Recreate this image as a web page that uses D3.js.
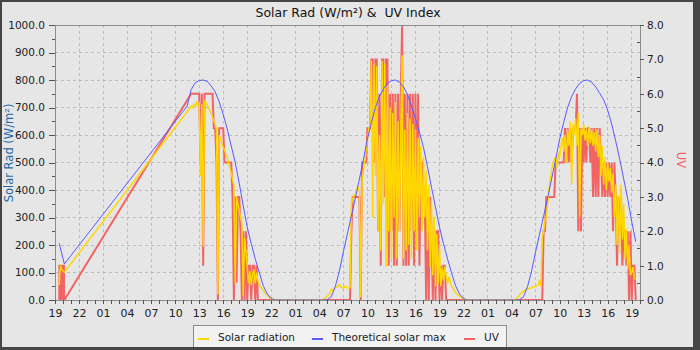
<!DOCTYPE html>
<html>
<head>
<meta charset="utf-8">
<script src="https://cdn.jsdelivr.net/npm/d3@7"></script>
<style>
  body { margin: 0; background: #444; }
  svg { display: block; font-family: 'DejaVu Sans', sans-serif; }
</style>
</head>
<body>
<svg id="chart" width="700" height="350"></svg>
<script>
// Width and height
const w = 700;
const h = 350;
const plot = { left: 55, right: 640, top: 25, bottom: 300 };

// Texts
const chartTitle = 'Solar Rad (W/m²) &  UV Index';
const leftLabel = 'Solar Rad (W/m²)';
const rightLabel = 'UV';
const seriesNames = ['Solar radiation', 'Theoretical solar max', 'UV'];
const seriesColors = ['#ffd700', '#5a5aff', '#f26464'];

// Ticks
const solarTicks = [0, 100, 200, 300, 400, 500, 600, 700, 800, 900, 1000];
const solarMinorTicks = [50, 150, 250, 350, 450, 550, 650, 750, 850, 950];
const uvTicks = [0, 1, 2, 3, 4, 5, 6, 7, 8];
const uvMinorTicks = [0.5, 1.5, 2.5, 3.5, 4.5, 5.5, 6.5, 7.5];

// Days covered and time window
const days = ['2024-06-20', '2024-06-21', '2024-06-22', '2024-06-23'];
const xStart = '2024-06-20 19:00';
const xEnd = '2024-06-23 20:02';

// Day 1 evening, single readings [time, value]
const solarDay1 = [['19:32', 55], ['19:36', 100], ['19:43', 121], ['19:50', 112], ['20:00', 106], ['20:10', 101]];
const uvDay1 = [['19:32', 0], ['19:33', 1], ['19:37', 1], ['19:38', 0], ['19:40', 1], ['19:46', 1], ['19:47', 0],
  ['19:49', 1], ['20:00', 1], ['20:02', 0], ['20:04', 1], ['20:07', 1], ['20:08', 0], ['20:10', 0]];
const maxDay1 = [['19:32', 206], ['20:10', 131]];

// Day 2, 10-minute readings (solar from 11:50, uv from 12:00), theoretical every 30 minutes from 11:30
const solarDay2Start = '11:50';
const solarDay2 = [697, 705, 700, 712, 703, 718, 708,
  715, 450, 712, 195, 722, 718,
  710, 700, 690, 678, 665, 650,
  640, 620, 20, 600, 585, 570,
  555, 545, 530, 520, 500, 480,
  460, 440, 415, 60, 375, 350,
  325, 300, 278, 15, 225, 175,
  120, 60, 105, 55, 95, 110,
  60, 100, 70, 55, 48, 42,
  36, 28, 22, 17, 12, 8,
  5, 3, 1, 0];
const uvDay2Start = '12:00';
const uvDay2 = [6, 6, 6, 6, 6, 6,
  6, 4, 6, 1, 6, 6,
  6, 6, 6, 6, 6, 5,
  5, 4, 0, 5, 5, 5,
  5, 4, 4, 4, 4, 4,
  4, 3, 0, 3, 0.5, 3,
  3, 2, 0, 2, 0, 2,
  0, 1, 1, 0, 1, 1,
  0, 1, 0, 0];
const maxDay2Start = '11:30';
const maxDay2 = [705, 765, 790, 798, 800, 795, 778, 757, 720, 675, 622, 560, 500, 425,
  342, 265, 205, 150, 100, 52, 22, 5, 0];

// Day 3, 10-minute readings from 04:00, theoretical every 30 minutes from 04:30
const solarDay3 = [0, 0, 1, 3, 6, 10,
  14, 18, 24, 40, 36, 38,
  44, 48, 52, 56, 50, 46,
  42, 50, 47, 44, 42, 45,
  350, 370, 380, 385, 400, 410,
  395, 10, 430, 470, 500, 540,
  580, 620, 640, 870, 300, 860,
  450, 850, 250, 600, 180, 870,
  350, 860, 120, 780, 250, 700,
  150, 680, 300, 720, 150, 650,
  250, 600, 890, 150, 620, 180,
  680, 200, 660, 150, 640, 250,
  620, 180, 590, 300, 560, 250,
  520, 300, 470, 180, 420, 120,
  360, 90, 300, 50, 240, 60,
  200, 50, 115, 70, 121, 85,
  60, 85, 70, 48, 45, 35,
  28, 22, 18, 14, 11, 8,
  5, 3, 2, 1, 0];
const uvDay3 = [0, 0, 0, 0, 0, 0,
  0, 0, 0, 0, 0, 0,
  0, 0, 0, 0, 0, 0,
  0, 0, 0, 0, 0, 0,
  2, 3, 3, 3, 3, 3,
  3, 0, 4, 4, 4, 4,
  5, 5, 5, 7, 7, 4,
  7, 7, 2, 6, 1, 7,
  7, 3, 7, 7, 1, 6,
  2, 6, 1, 6, 1, 6,
  2, 6, 8, 1, 6, 1,
  6, 1, 6, 2, 6, 1,
  6, 2, 6, 1, 4, 4,
  3, 3, 0, 3, 0, 3,
  2, 0, 2, 0, 2, 2,
  0, 1, 0, 1, 1, 0,
  0];
const maxDay3 = [0, 1, 12, 50, 105, 175, 240, 305, 370, 440, 510, 585, 645, 700, 740, 768,
  788, 798, 800, 792, 775, 748, 705, 660, 610, 555, 485, 410, 338, 265, 205, 150,
  100, 52, 22, 5, 0];

// Day 4, 10-minute readings from 04:00, theoretical every 30 minutes from 04:30
const solarDay4 = [0, 0, 0, 2, 6, 12,
  18, 24, 28, 32, 36, 38,
  40, 42, 43, 45, 48, 48,
  50, 52, 55, 73, 50, 230,
  250, 290, 300, 350, 400, 440,
  470, 500, 510, 520, 480, 530,
  520, 560, 590, 540, 600, 500,
  620, 560, 650, 420, 640, 600,
  660, 560, 680, 300, 620, 600,
  640, 580, 620, 560, 630, 570,
  620, 560, 610, 540, 620, 520,
  600, 450, 560, 420, 520, 400,
  500, 430, 480, 390, 460, 300,
  420, 200, 380, 170, 420, 220,
  350, 150, 260, 110, 200, 90,
  100, 120, 80, 75];
const uvDay4 = [0, 0, 0, 0, 0, 0,
  0, 0, 0, 0, 0, 0,
  0, 0, 0, 0, 0, 0,
  0, 0, 0, 0, 0, 0,
  2, 2, 3, 3, 3, 3,
  3, 3, 3, 4, 4, 4,
  4, 4, 4, 4, 5, 4,
  5, 4, 5, 4, 5, 5,
  5, 6, 2, 5, 2, 5,
  4, 5, 4, 5, 5, 4,
  5, 3, 5, 3, 5, 3,
  5, 4, 3, 4, 3, 4,
  3, 4, 3, 4, 2, 4,
  3, 1, 3, 2, 3, 1,
  2, 2, 1, 2, 0, 2,
  0, 1, 1, 0];
const maxDay4 = [0, 1, 12, 50, 105, 175, 240, 305, 370, 440, 510, 585, 645, 700, 740, 768,
  788, 798, 800, 792, 775, 752, 728, 690, 640, 578, 512, 440, 368, 285, 212];

// Helpers to turn readings into {t, v}
const parse = d3.timeParse('%Y-%m-%d %H:%M');
function points(day, pairs) {
  return pairs.map(function (p) { return { t: parse(days[day] + ' ' + p[0]), v: p[1] }; });
}
function block(day, start, step, values) {
  const t0 = parse(days[day] + ' ' + start);
  return values.map(function (v, i) { return { t: d3.timeMinute.offset(t0, i * step), v: v }; });
}

const solarData = [].concat(points(0, solarDay1), block(1, solarDay2Start, 10, solarDay2),
  block(2, '04:00', 10, solarDay3), block(3, '04:00', 10, solarDay4));
const uvData = [].concat(points(0, uvDay1), block(1, uvDay2Start, 10, uvDay2),
  block(2, '04:00', 10, uvDay3), block(3, '04:00', 10, uvDay4));
const maxData = [].concat(points(0, maxDay1), block(1, maxDay2Start, 30, maxDay2),
  block(2, '04:30', 30, maxDay3), block(3, '04:30', 30, maxDay4));

// Scales
const x = d3.scaleTime()
  .domain([parse(xStart), parse(xEnd)])
  .range([plot.left, plot.right]);
const y = d3.scaleLinear().domain([0, 1000]).range([plot.bottom, plot.top]);
const yUV = d3.scaleLinear().domain([0, 8]).range([plot.bottom, plot.top]);

const hours = d3.timeHour.range(parse(xStart), d3.timeMinute.offset(parse(xEnd), 1));
const majorHours = hours.filter(function (d) { return d.getHours() % 3 === 1; });
const fmtHour = d3.timeFormat('%H');

const svg = d3.select('#chart');

// Frame and background
svg.append('rect').attr('width', w).attr('height', h).attr('fill', '#454545');
svg.append('rect').attr('x', 2).attr('y', 2).attr('width', 691).attr('height', 345).attr('fill', '#e6e6e6');

// Grid
const grid = svg.append('g').attr('stroke', '#bdbdbd').attr('stroke-dasharray', '3,3').attr('shape-rendering', 'crispEdges');
grid.selectAll('.hg')
  .data(solarTicks.slice(1, -1))
  .enter().append('line')
  .attr('x1', plot.left).attr('x2', plot.right)
  .attr('y1', function (d) { return y(d); }).attr('y2', function (d) { return y(d); });
grid.selectAll('.vg')
  .data(majorHours)
  .enter().append('line')
  .attr('y1', plot.top).attr('y2', plot.bottom)
  .attr('x1', function (d) { return x(d); }).attr('x2', function (d) { return x(d); });

// Lines
svg.append('clipPath').attr('id', 'clip').append('rect')
  .attr('x', plot.left).attr('y', plot.top - 1)
  .attr('width', plot.right - plot.left).attr('height', plot.bottom - plot.top + 1);
const lines = svg.append('g').attr('clip-path', 'url(#clip)').attr('fill', 'none');

lines.append('path')
  .datum(uvData)
  .attr('stroke', seriesColors[2])
  .attr('stroke-width', 2)
  .attr('d', d3.line().x(function (d) { return x(d.t); }).y(function (d) { return yUV(d.v); }));
lines.append('path')
  .datum(solarData)
  .attr('stroke', seriesColors[0])
  .attr('stroke-width', 1.5)
  .attr('d', d3.line().x(function (d) { return x(d.t); }).y(function (d) { return y(d.v); }));
lines.append('path')
  .datum(maxData)
  .attr('stroke', seriesColors[1])
  .attr('stroke-width', 1)
  .attr('d', d3.line().x(function (d) { return x(d.t); }).y(function (d) { return y(d.v); }));

// Plot border
svg.append('rect')
  .attr('x', plot.left).attr('y', plot.top)
  .attr('width', plot.right - plot.left).attr('height', plot.bottom - plot.top)
  .attr('fill', 'none').attr('stroke', '#8c8c8c').attr('shape-rendering', 'crispEdges');

// Axes
function styleAxis(g) {
  g.select('.domain').remove();
  g.selectAll('line').attr('stroke', '#555').attr('shape-rendering', 'crispEdges');
  g.selectAll('text').attr('fill', '#222').attr('font-size', 10.5).attr('font-family', 'DejaVu Sans');
}

svg.append('g')
  .attr('transform', 'translate(0,' + plot.bottom + ')')
  .call(d3.axisBottom(x).tickValues(hours).tickSize(4).tickPadding(5)
    .tickFormat(function (d) { return d.getHours() % 3 === 1 ? fmtHour(d) : ''; }))
  .call(styleAxis)
  .selectAll('text').attr('font-size', 11);

svg.append('g')
  .attr('transform', 'translate(' + plot.left + ',0)')
  .call(d3.axisLeft(y).tickValues(solarTicks).tickSize(6).tickPadding(4).tickFormat(d3.format('.1f')))
  .call(styleAxis);
svg.append('g')
  .attr('transform', 'translate(' + plot.left + ',0)')
  .call(d3.axisLeft(y).tickValues(solarMinorTicks).tickSize(3).tickFormat(''))
  .call(styleAxis);

svg.append('g')
  .attr('transform', 'translate(' + plot.right + ',0)')
  .call(d3.axisRight(yUV).tickValues(uvTicks).tickSize(4).tickPadding(3).tickFormat(d3.format('.1f')))
  .call(styleAxis);
svg.append('g')
  .attr('transform', 'translate(' + plot.right + ',0)')
  .call(d3.axisLeft(yUV).tickValues(uvMinorTicks).tickSize(3).tickFormat(''))
  .call(styleAxis);

// Title and axis labels
svg.append('text')
  .attr('x', 348).attr('y', 17)
  .attr('text-anchor', 'middle')
  .attr('font-size', 12.5).attr('fill', '#111')
  .style('white-space', 'pre')
  .text(chartTitle);

svg.append('text')
  .attr('transform', 'translate(13,153) rotate(-90)')
  .attr('text-anchor', 'middle')
  .attr('font-size', 11.5).attr('fill', '#1e6aa8')
  .text(leftLabel);

svg.append('text')
  .attr('transform', 'translate(677,160) rotate(90)')
  .attr('text-anchor', 'middle')
  .attr('font-size', 11.5).attr('fill', seriesColors[2])
  .text(rightLabel);

// Legend
const legend = svg.append('g');
legend.append('rect')
  .attr('x', 193.5).attr('y', 325.5).attr('width', 313).attr('height', 24)
  .attr('fill', '#f2f2f2').attr('stroke', '#8c8c8c');
const legendX = [198, 312, 464];
seriesNames.forEach(function (name, i) {
  legend.append('line')
    .attr('x1', legendX[i]).attr('x2', legendX[i] + 11)
    .attr('y1', 339).attr('y2', 339)
    .attr('stroke', seriesColors[i]).attr('stroke-width', 2);
  legend.append('text')
    .attr('x', legendX[i] + 20).attr('y', 341)
    .attr('font-size', 10.5).attr('fill', '#222')
    .text(name);
});
// Frame edge drawn over the legend
svg.append('rect').attr('x', 0).attr('y', 347).attr('width', w).attr('height', 3).attr('fill', '#454545');
</script>
</body>
</html>
